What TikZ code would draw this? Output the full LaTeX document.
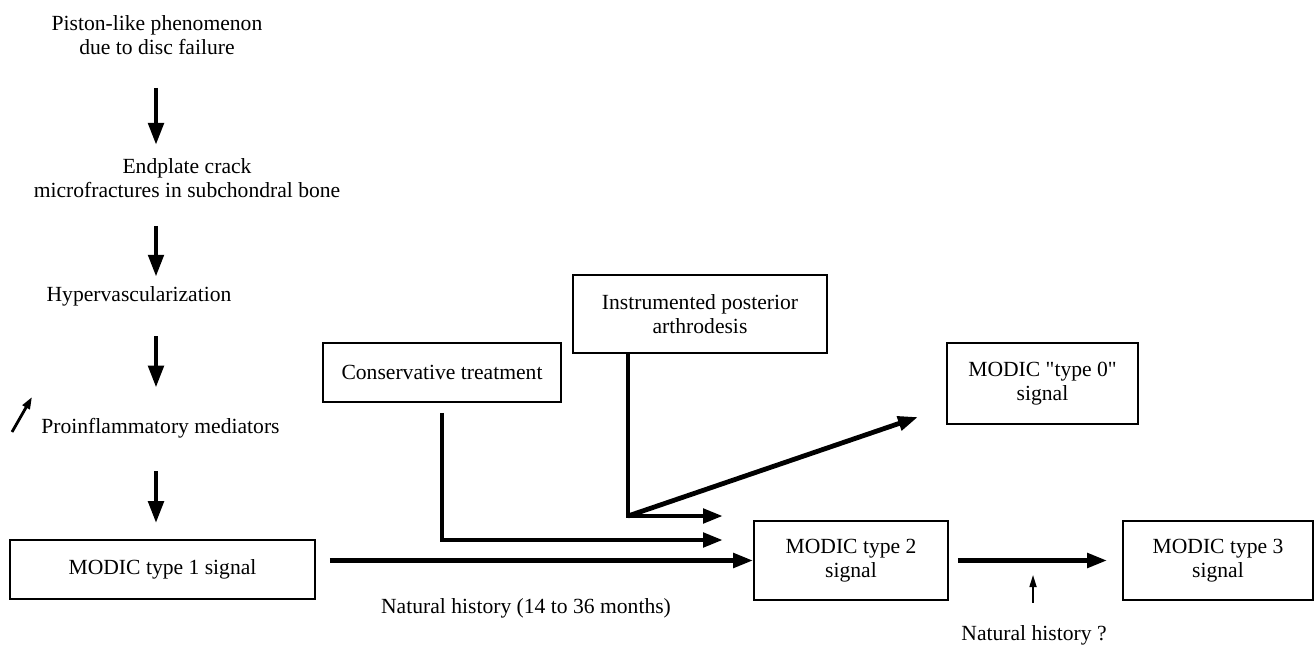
\documentclass[tikz,border=0pt]{standalone}
\usepackage{fontspec}
\setmainfont{Liberation Serif}
\newfontfamily\rawserif{Liberation Serif}[Ligatures=TeXOff]
\usetikzlibrary{arrows.meta,calc}
\begin{document}
\begin{tikzpicture}[x=0.5pt,y=-0.5pt,
  every node/.style={font=\fontsize{10.8pt}{12pt}\selectfont, align=center, inner sep=0pt},
  box/.style={draw, line width=0.8pt},
  varr/.style={line width=2.4pt, -{Triangle[length=11pt,width=7.5pt]}},
  harr/.style={line width=2.4pt, line join=miter, -{Triangle[length=10pt,width=7pt]}},
  sarr/.style={line width=0.8pt, -{Triangle[length=6pt,width=3.5pt]}},
  darr/.style={line width=1.4pt, -{Triangle[length=6pt,width=4pt]}}]
\useasboundingbox (0,0) rectangle (1315,646);

% left column
\node (t1) at (157,35) {Piston-like phenomenon\\due to disc failure};
\node (t2) at (187,178) {Endplate crack\\microfractures in subchondral bone};
\node (t3) at (139,296) {Hypervascularization};
\node (t4) at (160.5,428) {Proinflammatory mediators};
\coordinate (col) at (156,0);

% boxes
\node[box, minimum width=152.5pt, minimum height=29.5pt] (m1) at (162.5,569.5) {MODIC type 1 signal};
\node[box, minimum width=119pt, minimum height=29.5pt] (cons) at (442,372.5) {Conservative treatment};
\node[box, minimum width=127pt, minimum height=39pt] (instr) at (700,314) {Instrumented posterior\\arthrodesis};
\node[box, minimum width=95.5pt, minimum height=40.5pt] (m0) at (1042.5,383.5) {{\rawserif MODIC "type 0"}\\signal};
\node[box, minimum width=97pt, minimum height=39.5pt] (m2) at (851,560.5) {MODIC type 2\\signal};
\node[box, minimum width=95pt, minimum height=39.5pt] (m3) at (1218,560.5) {MODIC type 3\\signal};

% labels
\node (nh1) at (526,608) {Natural history (14 to 36 months)};
\node (nh2) at (1034,635) {Natural history ?};

% vertical arrows
\draw[varr, shorten <=16.5pt, shorten >=6.5pt] (t1.south -| col) -- (t2.north -| col);
\draw[varr, shorten <=14pt, shorten >=4.5pt] (t2.south -| col) -- (t3.north -| col);
\draw[varr, shorten <=15pt, shorten >=15pt] (t3.south -| col) -- (t4.north -| col);
\draw[varr, shorten <=16.5pt, shorten >=8pt] (t4.south -| col) -- (m1.north -| col);

% small diagonal arrow
\coordinate (pa) at (12,432);
\coordinate (pb) at (32,397);
\draw[darr] (pa) -- (pb);

% horizontal arrows
\draw[harr, shorten <=7pt] (m1.east |- m2.west) -- (m2.west);
\coordinate (e1) at (723,540);
\draw[harr, shorten <=5pt] (cons.south) |- (e1);
\coordinate (j) at (628,516);
\coordinate (e2) at (723,516);
\coordinate (e3) at (918,417);
\draw[harr] (j |- instr.south) -- (j) -- (e2);
\draw[harr] (j) -- (e3);
\draw[harr, shorten <=4.5pt, shorten >=7.5pt] (m2) -- (m3);

% small up arrow
\coordinate (up) at (1033,575);
\draw[sarr, shorten <=11pt] (nh2.north -| up) -- (up);
\end{tikzpicture}
\end{document}
